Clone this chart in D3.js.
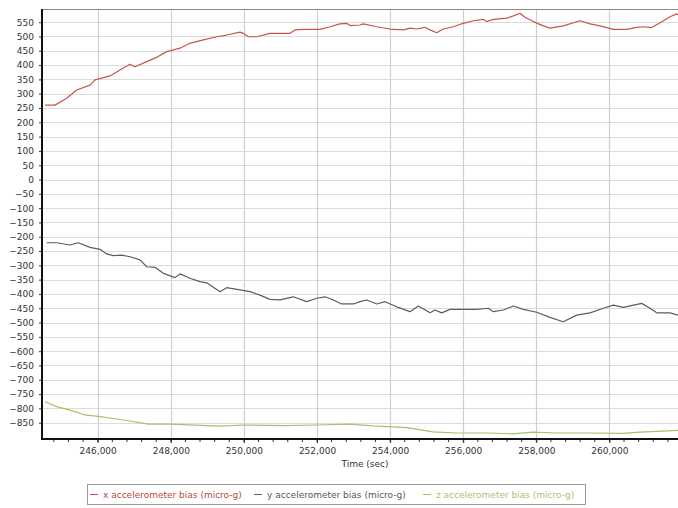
<!DOCTYPE html>
<html><head><meta charset="utf-8">
<script src="https://cdn.jsdelivr.net/npm/d3@7"></script>
<style>body{margin:0;background:#fff}svg{display:block}</style>
</head><body>
<svg id="c" width="678" height="508"></svg>
<script>
const xTimes = [244558,244832,245152,245425,245789,245926,246337,246610,246884,247021,247341,247614,247888,248252,248525,248889,249256,249529,249893,249984,250120,250350,250714,250988,251261,251398,251625,252082,252356,252629,252813,252903,253177,253267,253633,253997,254361,254545,254728,254955,255092,255275,255456,255729,256003,256276,256550,256643,256824,257190,257371,257554,257691,257918,258192,258375,258739,259196,259469,259743,260107,260473,260747,260928,261157,261385,261658,261841,261877];
const xBias = [260,260,284,313,330,348,362,383,403,394,412,427,447,459,476,488,499,505,515,511,499,499,511,511,511,523,525,525,534,544,546,538,540,544,534,526,523,529,526,532,523,513,526,534,546,555,560,552,560,564,572,581,567,552,537,529,537,555,544,537,525,525,532,534,531,548,569,579,575];

const yTimes = [244605,244878,245242,245469,245789,246063,246246,246427,246657,246884,247157,247341,247568,247795,248115,248252,248525,248799,248982,249346,249529,249893,250167,250440,250714,250988,251352,251718,251992,252219,252446,252676,252993,253177,253360,253633,253861,254181,254545,254772,255092,255229,255412,255639,255913,256369,256687,256824,257097,257371,257645,258011,258375,258739,259105,259469,259833,260107,260380,260884,261111,261294,261658,261877];
const yBias = [-221,-221,-229,-221,-237,-244,-260,-266,-264,-270,-281,-305,-307,-328,-343,-330,-345,-357,-361,-392,-378,-386,-392,-404,-419,-421,-410,-427,-415,-410,-421,-435,-435,-427,-421,-435,-427,-445,-462,-442,-466,-456,-466,-454,-454,-454,-450,-462,-456,-442,-454,-464,-482,-497,-474,-466,-450,-439,-447,-433,-450,-466,-466,-474];

const zTimes = [244558,244878,245242,245653,246063,246520,246884,247384,247978,249346,249975,251070,252000,252903,253532,254462,255174,255830,256733,257363,257910,258567,259469,260372,260837,261740,261877];
const zBias = [-777,-794,-806,-823,-829,-837,-844,-855,-855,-862,-858,-860,-858,-855,-861,-867,-882,-886,-886,-889,-883,-886,-886,-887,-883,-878,-877];

const yTickValues = d3.range(-850, 551, 50);
const xTickValues = [246000,248000,250000,252000,254000,256000,258000,260000];
const seriesNames = ["x accelerometer bias (micro-g)","y accelerometer bias (micro-g)","z accelerometer bias (micro-g)"];
const seriesColors = ["#c9544c","#5a5e5e","#a3c46a"];
const legendTextColors = ["#c0463e","#555a5a","#a8c47a"];

const svg = d3.select("#c");
const L = 42, T = 9, R = 678, B = 439;
const x = d3.scaleLinear().domain([244476, 261877]).range([L, R]);
const y = d3.scaleLinear().domain([-907, 596]).range([B, T]);
const font = "'DejaVu Sans', Verdana, sans-serif";

// grid
const g = svg.append("g");
g.selectAll("line.hg").data(yTickValues).join("line")
  .attr("x1", L).attr("x2", R).attr("y1", d => Math.round(y(d))+0.5).attr("y2", d => Math.round(y(d))+0.5)
  .attr("stroke", "#dcdcdc").attr("stroke-width", 1);
g.selectAll("line.vg").data(xTickValues).join("line")
  .attr("y1", T).attr("y2", B).attr("x1", d => Math.round(x(d))+0.5).attr("x2", d => Math.round(x(d))+0.5)
  .attr("stroke", "#cfcfcf").attr("stroke-width", 1.2);
svg.append("line").attr("x1", L).attr("x2", R).attr("y1", T+0.5).attr("y2", T+0.5).attr("stroke", "#8a8a8a");

// lines
const data = [
  xTimes.map((t,i)=>[t,xBias[i]]),
  yTimes.map((t,i)=>[t,yBias[i]]),
  zTimes.map((t,i)=>[t,zBias[i]])
];
const line = d3.line().x(d=>x(d[0])).y(d=>y(d[1]));
data.forEach((d,i)=>{
  svg.append("path").attr("d", line(d)).attr("fill","none")
    .attr("stroke", seriesColors[i]).attr("stroke-width", 1.2).attr("stroke-linejoin","round");
});

// y axis
const yAxis = svg.append("g").attr("transform", `translate(${L},0)`)
  .call(d3.axisLeft(y).tickValues(yTickValues).tickSize(3).tickPadding(5).tickFormat(d => d===0 ? "0" : d3.format("d")(d)));
yAxis.select(".domain").remove();
yAxis.selectAll("text").attr("font-family", font).attr("font-size", 9).attr("fill", "#333");
yAxis.selectAll("line").attr("stroke", "#333");
svg.append("line").attr("x1", L).attr("x2", L).attr("y1", T).attr("y2", B+1).attr("stroke", "#111").attr("stroke-width", 2);

// x axis
const minor = d3.range(244800, 261877, 400);
svg.append("g").selectAll("line").data(minor).join("line")
  .attr("x1", d=>x(d)).attr("x2", d=>x(d)).attr("y1", B).attr("y2", B+3).attr("stroke", "#333");
const xAxis = svg.append("g").attr("transform", `translate(0,${B})`)
  .call(d3.axisBottom(x).tickValues(xTickValues).tickSize(4).tickPadding(5).tickFormat(d3.format(",")));
xAxis.select(".domain").remove();
xAxis.selectAll("text").attr("font-family", font).attr("font-size", 9).attr("fill", "#333");
xAxis.selectAll("line").attr("stroke", "#333");
svg.append("line").attr("x1", L-1).attr("x2", R).attr("y1", B).attr("y2", B).attr("stroke", "#111").attr("stroke-width", 2);

svg.append("text").attr("x", 365).attr("y", 467).attr("text-anchor","middle")
  .attr("font-family", font).attr("font-size", 9).attr("fill","#333").text("Time (sec)");

// legend
const lg = svg.append("g");
lg.append("rect").attr("x", 87.5).attr("y", 484.5).attr("width", 498).attr("height", 20)
  .attr("fill","#fff").attr("stroke","#9a9a9a");
const itemX = [90, 254, 423];
seriesNames.forEach((n,i)=>{
  lg.append("line").attr("x1", itemX[i]).attr("x2", itemX[i]+8).attr("y1", 494.5).attr("y2", 494.5)
    .attr("stroke", seriesColors[i]).attr("stroke-width", 1);
  lg.append("text").attr("x", itemX[i]+13).attr("y", 498).attr("font-family", font).attr("font-size", 9)
    .attr("fill", legendTextColors[i]).text(n);
});
</script>
</body></html>
